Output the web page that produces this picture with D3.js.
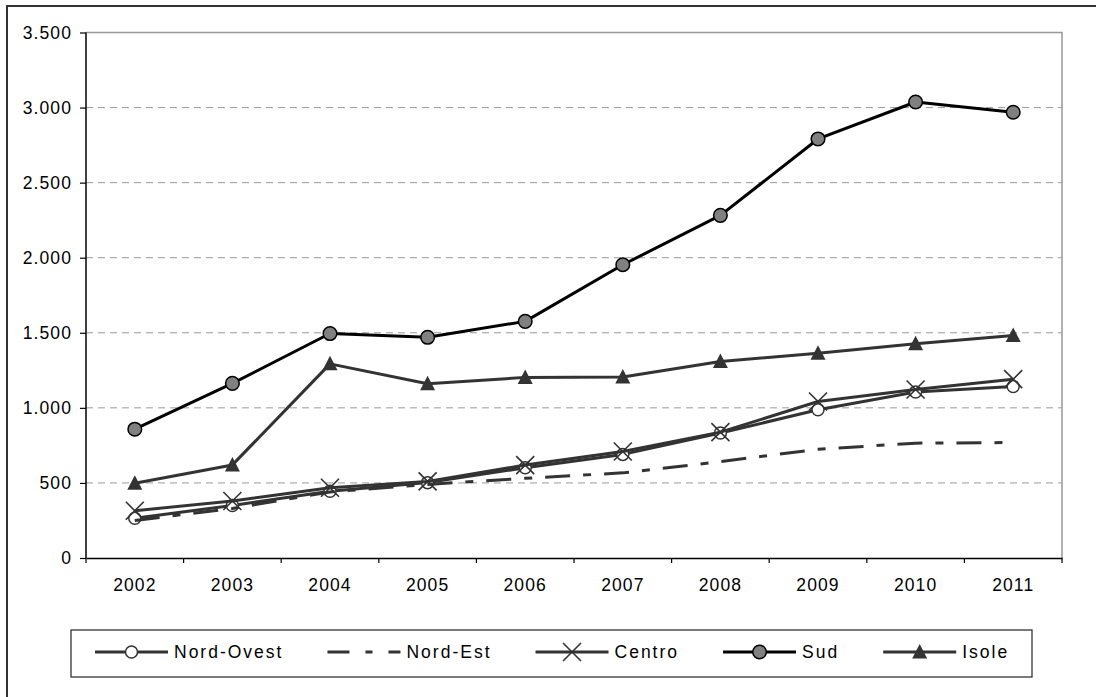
<!DOCTYPE html>
<html>
<head>
<meta charset="utf-8">
<script src="https://cdn.jsdelivr.net/npm/d3@7"></script>
<style>
  body { margin: 0; background: #fff; }
  svg { display: block; font-family: "Liberation Sans", Arial, sans-serif; }
  .tick-text { font-size: 17.5px; letter-spacing: 1.1px; fill: #000; }
  .legend-text { font-size: 17.5px; letter-spacing: 2px; fill: #000; }
</style>
</head>
<body>
<script>
// Chart Data
var years = ["2002", "2003", "2004", "2005", "2006", "2007", "2008", "2009", "2010", "2011"];
var nordOvest = [265, 350, 445, 502, 601, 690, 832, 987, 1105, 1142];
var nordEst = [250, 330, 440, 490, 531, 567, 642, 724, 765, 769];
var centro = [315, 380, 468, 510, 619, 709, 838, 1042, 1122, 1191];
var sud = [858, 1163, 1495, 1470, 1576, 1953, 2282, 2791, 3037, 2969];
var isole = [498, 620, 1293, 1160, 1203, 1205, 1309, 1364, 1427, 1482];
var yTicks = [0, 500, 1000, 1500, 2000, 2500, 3000, 3500];
var seriesNames = ["Nord-Ovest", "Nord-Est", "Centro", "Sud", "Isole"];

var series = [
  { name: seriesNames[0], values: nordOvest, color: "#333", marker: "circle-open", dash: null },
  { name: seriesNames[1], values: nordEst, color: "#333", marker: "none", dash: "25,13,8,13" },
  { name: seriesNames[2], values: centro, color: "#333", marker: "cross", dash: null },
  { name: seriesNames[3], values: sud, color: "#000", marker: "circle-gray", dash: null },
  { name: seriesNames[4], values: isole, color: "#333", marker: "triangle", dash: null }
];

var svgWidth = 1096;
var svgHeight = 697;

var margin = { top: 32.5, left: 86, right: 34, bottom: 139 };
var width = svgWidth - margin.left - margin.right;
var height = svgHeight - margin.top - margin.bottom;

var svg = d3.select("body")
  .append("svg")
    .attr("width", svgWidth)
    .attr("height", svgHeight);

// Outer frame (runs off the bottom/right of the picture)
svg.append("rect")
  .attr("x", 7)
  .attr("y", 6)
  .attr("width", 1200)
  .attr("height", 800)
  .attr("fill", "none")
  .attr("stroke", "#333")
  .attr("stroke-width", 2);

var chartGroup = svg.append("g")
  .attr("transform", `translate(${margin.left}, ${margin.top})`);

// Scales
var xScale = d3.scaleBand().domain(years).range([0, width]);
var yScale = d3.scaleLinear().domain([0, 3500]).range([height, 0]);
var xMid = (i) => xScale(years[i]) + xScale.bandwidth() / 2;

var itFormat = d3.formatLocale({ decimal: ",", thousands: ".", grouping: [3], currency: ["", "€"] }).format(",d");

// Gridlines
chartGroup.selectAll(".grid")
  .data(yTicks.filter((d) => d > 0 && d < 3500))
  .enter()
  .append("line")
    .attr("class", "grid")
    .attr("x1", 0)
    .attr("x2", width)
    .attr("y1", (d) => yScale(d))
    .attr("y2", (d) => yScale(d))
    .attr("stroke", "#999")
    .attr("stroke-width", 1)
    .attr("stroke-dasharray", "7,5");

// Plot area top and right border
chartGroup.append("path")
  .attr("d", `M0,${yScale(3500)}H${width}V${height}`)
  .attr("fill", "none")
  .attr("stroke", "#999")
  .attr("stroke-width", 1.5);

// Y axis
var yAxis = d3.axisLeft(yScale)
  .tickValues(yTicks)
  .tickSize(6)
  .tickPadding(8)
  .tickFormat(itFormat);

var yAxisG = chartGroup.append("g")
  .attr("class", "y-axis")
  .call(yAxis);
yAxisG.select(".domain").attr("stroke", "#000").attr("stroke-width", 1.5).attr("d", `M0,0V${height}`);
yAxisG.selectAll("line").attr("stroke", "#000").attr("stroke-width", 1.2);
yAxisG.selectAll("text").attr("class", "tick-text").attr("font-size", null).attr("font-family", null);

// X axis
var xAxis = d3.axisBottom(xScale).tickSize(0).tickPadding(21);
var xAxisG = chartGroup.append("g")
  .attr("class", "x-axis")
  .attr("transform", `translate(0, ${height})`)
  .call(xAxis);
xAxisG.select(".domain").attr("stroke", "#000").attr("stroke-width", 1.5);
xAxisG.selectAll("text").attr("class", "tick-text").attr("font-size", null).attr("font-family", null);

xAxisG.selectAll(".bound")
  .data(d3.range(years.length + 1))
  .enter()
  .append("line")
    .attr("class", "bound")
    .attr("x1", (i) => i * xScale.step())
    .attr("x2", (i) => i * xScale.step())
    .attr("y1", 0)
    .attr("y2", 5)
    .attr("stroke", "#000")
    .attr("stroke-width", 1.2);

// Markers
function drawMarker(g, type, color) {
  if (type === "circle-open") {
    g.append("circle").attr("r", 6).attr("fill", "#fff").attr("stroke", color).attr("stroke-width", 1.5);
  } else if (type === "circle-gray") {
    g.append("circle").attr("r", 6.8).attr("fill", "#808080").attr("stroke", "#000").attr("stroke-width", 1.5);
  } else if (type === "cross") {
    g.append("path").attr("d", "M-9,-9L9,9M-9,9L9,-9").attr("stroke", color).attr("stroke-width", 1.6).attr("fill", "none");
  } else if (type === "triangle") {
    g.append("path").attr("d", "M0,-8L7.5,6.5L-7.5,6.5Z").attr("fill", color);
  }
}

var line = d3.line()
  .x((d, i) => xMid(i))
  .y((d) => yScale(d));

series.forEach(function(s) {
  var sg = chartGroup.append("g").attr("class", "series");
  sg.append("path")
    .attr("d", line(s.values))
    .attr("fill", "none")
    .attr("stroke", s.color)
    .attr("stroke-width", 3)
    .attr("stroke-linejoin", "round")
    .attr("stroke-dasharray", s.dash);
  if (s.marker !== "none") {
    sg.selectAll(".pt")
      .data(s.values)
      .enter()
      .append("g")
        .attr("class", "pt")
        .attr("transform", (d, i) => `translate(${xMid(i)}, ${yScale(d)})`)
        .each(function() { drawMarker(d3.select(this), s.marker, s.color); });
  }
});

// Legend
var legend = svg.append("g").attr("class", "legend");
legend.append("rect")
  .attr("x", 71)
  .attr("y", 630)
  .attr("width", 961)
  .attr("height", 47)
  .attr("fill", "#fff")
  .attr("stroke", "#333")
  .attr("stroke-width", 1.3);

var lx = 95;
var ly = 652;
series.forEach(function(s) {
  var item = legend.append("g").attr("transform", `translate(${lx}, ${ly})`);
  item.append("line")
    .attr("x1", 0)
    .attr("x2", 73)
    .attr("stroke", s.color)
    .attr("stroke-width", 3)
    .attr("stroke-dasharray", s.dash ? "22,16,7,16" : null);
  drawMarker(item.append("g").attr("transform", "translate(36.5, 0)"), s.marker, s.color);
  var t = item.append("text")
    .attr("class", "legend-text")
    .attr("x", 79)
    .attr("y", 6)
    .text(s.name);
  lx += 79 + t.node().getComputedTextLength() + 44;
});
</script>
</body>
</html>
